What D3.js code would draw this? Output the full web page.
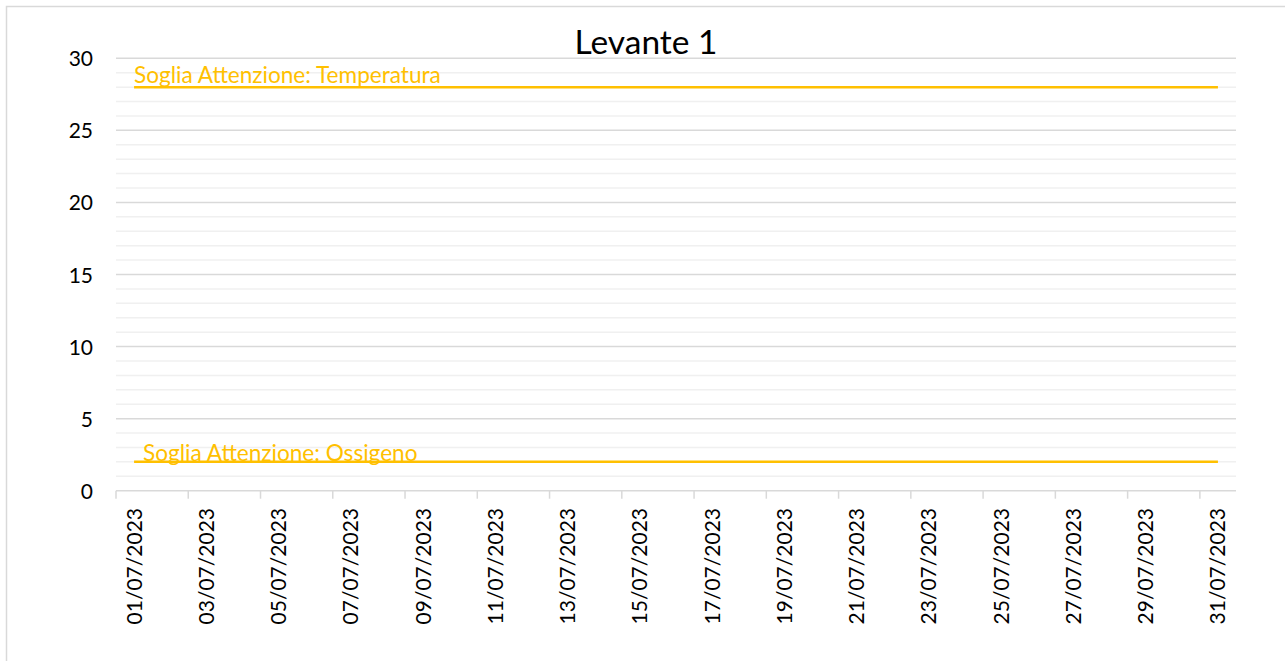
<!DOCTYPE html>
<html>
<head>
<meta charset="utf-8">
<script src="https://cdn.jsdelivr.net/npm/d3@7"></script>
<style>
  html, body { margin: 0; padding: 0; background: #ffffff; }
  svg { display: block; }
  text { font-family: Lato, "Open Sans", sans-serif; }
</style>
</head>
<body>
<svg id="chart" width="1285" height="661"></svg>
<script>
const title = "Levante 1";
const categories = [
  "01/07/2023","02/07/2023","03/07/2023","04/07/2023","05/07/2023","06/07/2023","07/07/2023","08/07/2023",
  "09/07/2023","10/07/2023","11/07/2023","12/07/2023","13/07/2023","14/07/2023","15/07/2023","16/07/2023",
  "17/07/2023","18/07/2023","19/07/2023","20/07/2023","21/07/2023","22/07/2023","23/07/2023","24/07/2023",
  "25/07/2023","26/07/2023","27/07/2023","28/07/2023","29/07/2023","30/07/2023","31/07/2023"
];
const sogliaTemperatura = [28,28,28,28,28,28,28,28,28,28,28,28,28,28,28,28,28,28,28,28,28,28,28,28,28,28,28,28,28,28,28];
const sogliaOssigeno = [2,2,2,2,2,2,2,2,2,2,2,2,2,2,2,2,2,2,2,2,2,2,2,2,2,2,2,2,2,2,2];
const seriesNames = ["Soglia Attenzione: Temperatura", "Soglia Attenzione: Ossigeno"];
const yMajorTicks = [0,5,10,15,20,25,30];
const yMinorTicks = [1,2,3,4,6,7,8,9,11,12,13,14,16,17,18,19,21,22,23,24,26,27,28,29];

const svg = d3.select("#chart");

// Chart border
svg.append("rect")
  .attr("x", 6.5).attr("y", 6.5).attr("width", 1300).attr("height", 700)
  .attr("fill", "none").attr("stroke", "#d9d9d9").attr("stroke-width", 1.5);

const plot = { left: 116, right: 1236, top: 58.3, bottom: 490.7 };

const x = d3.scaleBand().domain(categories).range([plot.left, plot.right]).padding(0);
const y = d3.scaleLinear().domain([0, 30]).range([plot.bottom, plot.top]);

// Minor gridlines
svg.append("g").selectAll("line").data(yMinorTicks).join("line")
  .attr("x1", plot.left).attr("x2", plot.right)
  .attr("y1", d => y(d)).attr("y2", d => y(d))
  .attr("stroke", "#f0f0f0").attr("stroke-width", 1.5);

// Major gridlines
svg.append("g").selectAll("line").data(yMajorTicks.filter(d => d !== 0)).join("line")
  .attr("x1", plot.left).attr("x2", plot.right)
  .attr("y1", d => y(d)).attr("y2", d => y(d))
  .attr("stroke", "#d9d9d9").attr("stroke-width", 1.5);

// Y axis labels
const yAxis = d3.axisLeft(y).tickValues(yMajorTicks).tickSize(0).tickPadding(0);
const gy = svg.append("g").attr("transform", `translate(93,0)`).call(yAxis);
gy.select(".domain").remove();
gy.selectAll("text").attr("font-family", "Lato, sans-serif").attr("font-size", 21).attr("fill", "#000").attr("dy", "0.36em").attr("x", 0);

// X axis line and ticks
svg.append("line")
  .attr("x1", plot.left).attr("x2", plot.right)
  .attr("y1", plot.bottom).attr("y2", plot.bottom)
  .attr("stroke", "#d9d9d9").attr("stroke-width", 1.5);

const tickCats = categories.filter((d, i) => i % 2 === 0);
svg.append("g").selectAll("line").data(tickCats).join("line")
  .attr("x1", d => x(d)).attr("x2", d => x(d))
  .attr("y1", plot.bottom).attr("y2", plot.bottom + 8)
  .attr("stroke", "#d9d9d9").attr("stroke-width", 1.5);

// X labels (every other date)
svg.append("g").selectAll("text").data(tickCats).join("text")
  .attr("transform", d => `translate(${x(d) + x.bandwidth() / 2},508) rotate(-90)`)
  .attr("text-anchor", "end")
  .attr("dy", "0.36em")
  .attr("font-size", 21)
  .attr("fill", "#000")
  .text(d => d);

// Threshold lines
const line = d3.line()
  .x((d, i) => x(categories[i]) + x.bandwidth() / 2)
  .y(d => y(d));

[sogliaTemperatura, sogliaOssigeno].forEach(series => {
  svg.append("path")
    .datum(series)
    .attr("d", line)
    .attr("fill", "none")
    .attr("stroke", "#FFC000")
    .attr("stroke-width", 2.5);
});

// Series labels
svg.append("text")
  .attr("x", x(categories[0]) + x.bandwidth() / 2)
  .attr("y", y(sogliaTemperatura[0]) - 4.5)
  .attr("font-size", 22.6)
  .attr("fill", "#FFC000")
  .text(seriesNames[0]);

svg.append("text")
  .attr("x", x(categories[0]) + x.bandwidth() / 2 + 9)
  .attr("y", y(sogliaOssigeno[0]) - 0.5)
  .attr("font-size", 22.6)
  .attr("fill", "#FFC000")
  .text(seriesNames[1]);

// Title
svg.append("text")
  .attr("x", 646).attr("y", 54)
  .attr("text-anchor", "middle")
  .attr("font-size", 33.5)
  .attr("fill", "#000")
  .text(title);
</script>
</body>
</html>
